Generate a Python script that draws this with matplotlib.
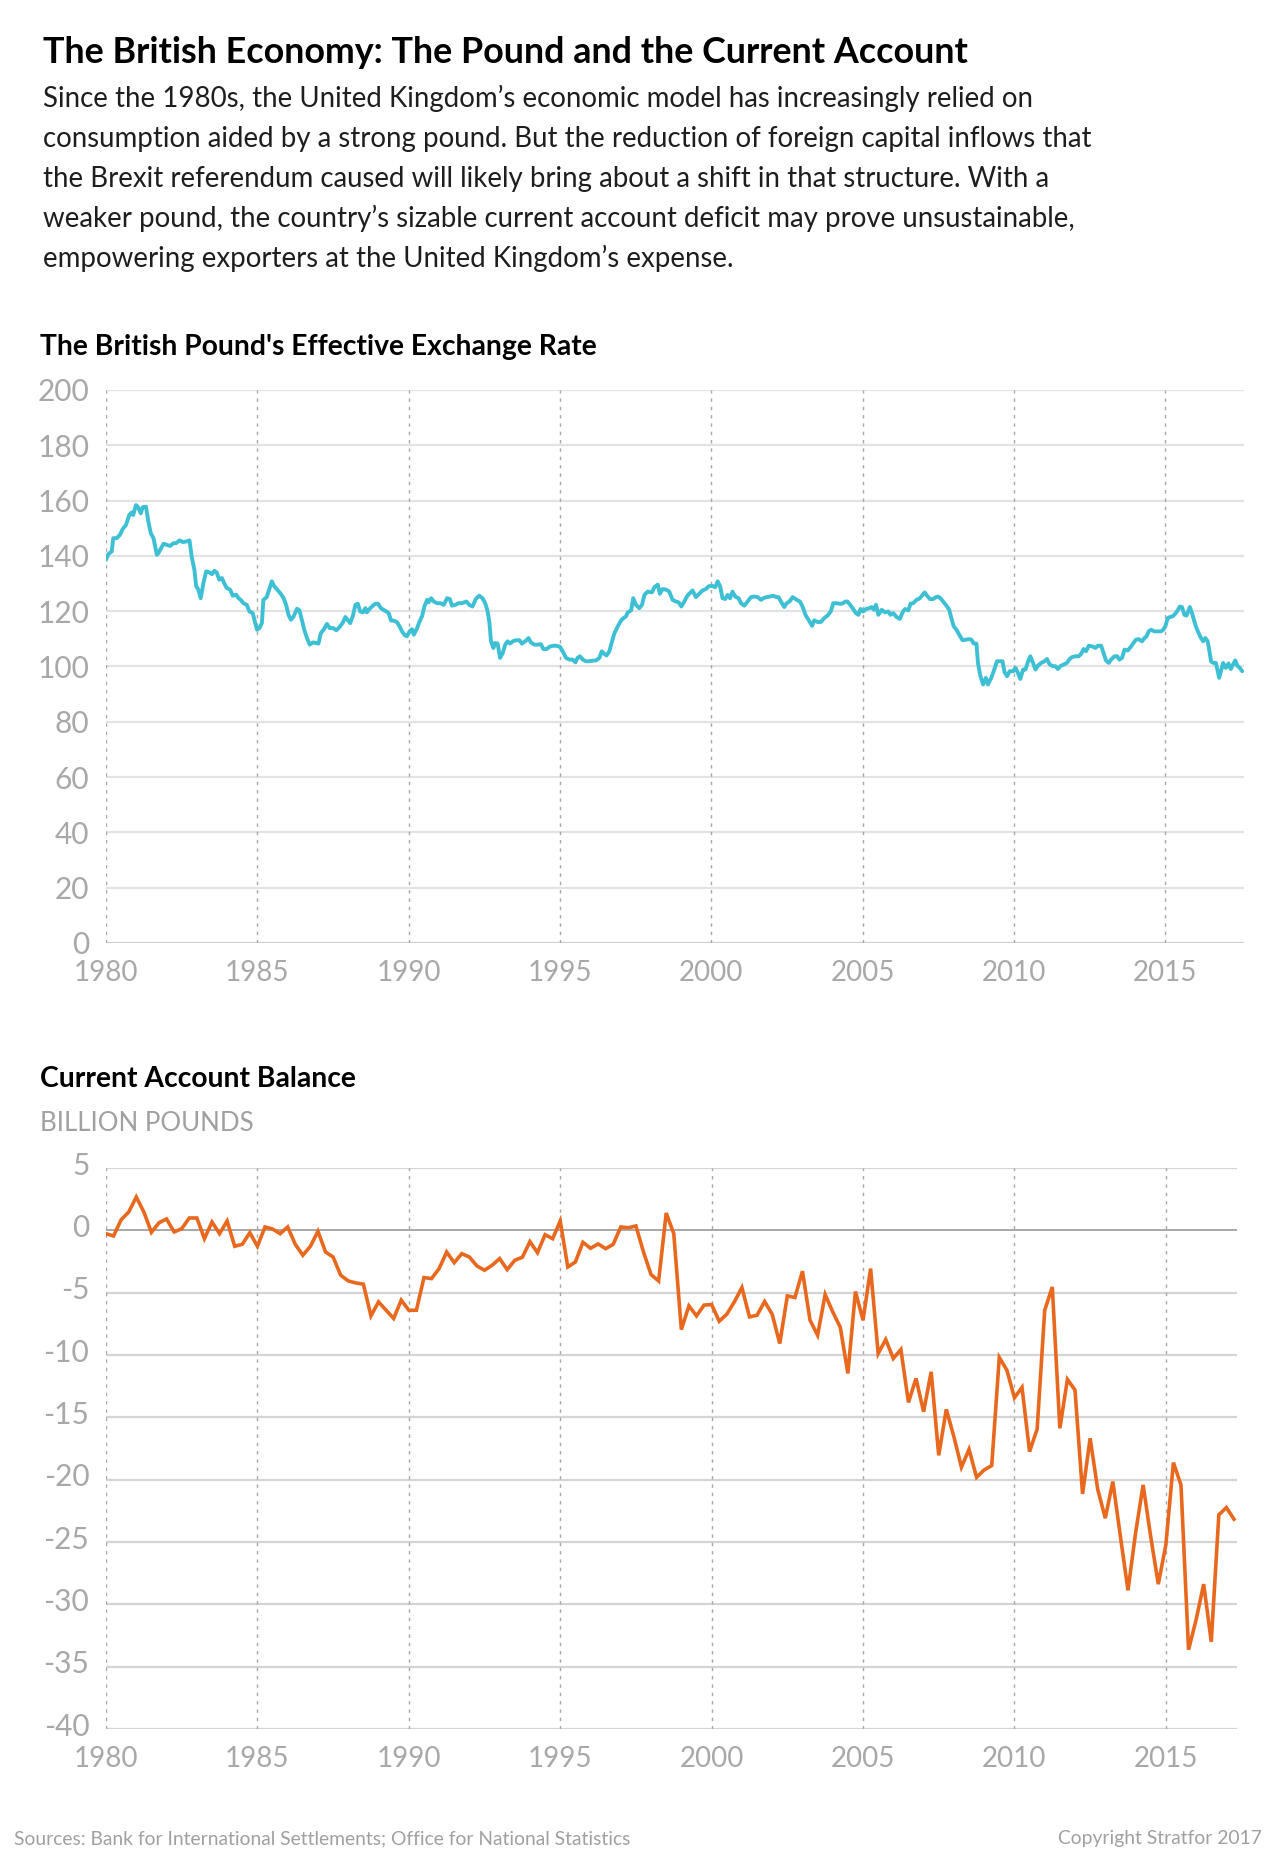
import matplotlib
matplotlib.use('Agg')
import matplotlib.pyplot as plt
import matplotlib.transforms as mtransforms
import numpy as np

plt.rcParams['font.family'] = ['Lato', 'DejaVu Sans']
plt.rcParams['axes.unicode_minus'] = False

# ---- data: pound effective exchange rate ----
fx_year = [
    1980.00, 1980.08, 1980.19, 1980.24, 1980.35, 1980.46, 1980.55, 1980.66, 1980.77, 1980.85, 1980.90, 1980.99,
    1981.05, 1981.15, 1981.21, 1981.32, 1981.40, 1981.48, 1981.57, 1981.68, 1981.73, 1981.90,
    1982.01, 1982.12, 1982.23, 1982.32, 1982.43, 1982.54, 1982.65, 1982.76, 1982.83, 1982.92, 1982.98,
    1983.05, 1983.13, 1983.22, 1983.31, 1983.42, 1983.50, 1983.58, 1983.66, 1983.74, 1983.83, 1983.90, 1983.99,
    1984.10, 1984.19, 1984.30, 1984.38, 1984.45, 1984.54, 1984.65, 1984.74, 1984.85, 1984.93, 1984.99,
    1985.07, 1985.15, 1985.20, 1985.31, 1985.39, 1985.48, 1985.56, 1985.64, 1985.76, 1985.87, 1985.95,
    1986.03, 1986.11, 1986.20, 1986.31, 1986.39, 1986.47, 1986.55, 1986.64, 1986.73, 1986.84, 1986.95,
    1987.02, 1987.10, 1987.19, 1987.30, 1987.39, 1987.50, 1987.61, 1987.72, 1987.83, 1987.91, 1987.98,
    1988.07, 1988.16, 1988.24, 1988.32, 1988.40, 1988.49, 1988.57, 1988.62, 1988.73, 1988.82, 1988.90, 1988.99,
    1989.08, 1989.17, 1989.26, 1989.34, 1989.42, 1989.50, 1989.61, 1989.70, 1989.78, 1989.86, 1989.94,
    1990.03, 1990.11, 1990.17, 1990.28, 1990.36, 1990.44, 1990.52, 1990.61, 1990.66, 1990.74, 1990.83, 1990.94,
    1991.05, 1991.16, 1991.27, 1991.36, 1991.43, 1991.54, 1991.65, 1991.76, 1991.91,
    1992.00, 1992.11, 1992.22, 1992.33, 1992.44, 1992.53, 1992.61, 1992.67, 1992.72, 1992.80, 1992.86, 1992.94,
    1993.02, 1993.11, 1993.19, 1993.27, 1993.35, 1993.44, 1993.55, 1993.66, 1993.74, 1993.85, 1993.96,
    1994.04, 1994.15, 1994.26, 1994.37, 1994.45, 1994.56, 1994.65, 1994.76, 1994.89,
    1995.00, 1995.09, 1995.20, 1995.31, 1995.42, 1995.51, 1995.58, 1995.66, 1995.75, 1995.86, 1995.97,
    1996.08, 1996.19, 1996.30, 1996.38, 1996.46, 1996.54, 1996.63, 1996.72, 1996.80, 1996.91,
    1997.02, 1997.10, 1997.18, 1997.24, 1997.35, 1997.42, 1997.51, 1997.62, 1997.71, 1997.79, 1997.90,
    1998.04, 1998.12, 1998.23, 1998.30, 1998.39, 1998.50, 1998.61, 1998.72, 1998.83, 1998.92,
    1999.01, 1999.11, 1999.19, 1999.27, 1999.38, 1999.49, 1999.60, 1999.71, 1999.82, 1999.91,
    2000.02, 2000.13, 2000.21, 2000.29, 2000.37, 2000.46, 2000.54, 2000.62, 2000.70, 2000.79, 2000.90, 2000.98,
    2001.09, 2001.20, 2001.31, 2001.42, 2001.53, 2001.64, 2001.72, 2001.83, 2001.94,
    2002.05, 2002.14, 2002.22, 2002.30, 2002.41, 2002.49, 2002.58, 2002.69, 2002.78, 2002.85, 2002.93,
    2003.02, 2003.11, 2003.22, 2003.33, 2003.40, 2003.51, 2003.62, 2003.73, 2003.84, 2003.95,
    2004.03, 2004.12, 2004.23, 2004.32, 2004.43, 2004.50, 2004.67, 2004.78, 2004.86, 2004.93,
    2005.02, 2005.11, 2005.22, 2005.30, 2005.37, 2005.44, 2005.52, 2005.63, 2005.74, 2005.85, 2005.92,
    2006.01, 2006.12, 2006.23, 2006.32, 2006.40, 2006.51, 2006.58, 2006.67, 2006.78, 2006.89, 2006.98,
    2007.05, 2007.13, 2007.22, 2007.33, 2007.42, 2007.49, 2007.57, 2007.66, 2007.77, 2007.86, 2007.93,
    2008.01, 2008.10, 2008.19, 2008.30, 2008.41, 2008.52, 2008.59, 2008.67, 2008.76, 2008.81, 2008.89, 2008.98,
    2009.07, 2009.14, 2009.25, 2009.33, 2009.44, 2009.53, 2009.62, 2009.69, 2009.77, 2009.86, 2009.97,
    2010.05, 2010.13, 2010.21, 2010.30, 2010.38, 2010.46, 2010.54, 2010.63, 2010.71, 2010.79, 2010.90,
    2011.01, 2011.09, 2011.18, 2011.29, 2011.37, 2011.45, 2011.53, 2011.64, 2011.75, 2011.84, 2011.92,
    2012.03, 2012.14, 2012.22, 2012.30, 2012.38, 2012.47, 2012.58, 2012.69, 2012.77, 2012.88, 2012.96,
    2013.04, 2013.13, 2013.21, 2013.32, 2013.41, 2013.48, 2013.57, 2013.65, 2013.76, 2013.87, 2013.95,
    2014.03, 2014.12, 2014.23, 2014.31, 2014.38, 2014.45, 2014.53, 2014.64, 2014.75, 2014.86, 2014.93,
    2015.00, 2015.08, 2015.15, 2015.24, 2015.33, 2015.41, 2015.48, 2015.55, 2015.63, 2015.70, 2015.77, 2015.81, 2015.90, 2015.96,
    2016.01, 2016.10, 2016.18, 2016.25, 2016.32, 2016.40, 2016.45, 2016.51, 2016.58, 2016.67, 2016.73, 2016.78, 2016.84, 2016.91,
    2017.00, 2017.09, 2017.16, 2017.22, 2017.31, 2017.38, 2017.46, 2017.54,
]
fx_index = [
    138.6, 140.7, 141.6, 146.4, 146.4, 147.6, 149.7, 151.2, 154.8, 155.7, 154.8, 158.4,
    157.8, 155.4, 157.6, 157.8, 152.4, 148.2, 146.4, 140.4, 141.0, 144.4,
    144.0, 143.6, 144.6, 144.6, 145.6, 145.0, 145.2, 145.6, 139.8, 135.0, 129.0,
    127.8, 124.7, 130.2, 134.4, 134.0, 133.4, 134.6, 134.0, 131.4, 132.0, 130.2, 128.4,
    127.8, 125.6, 126.0, 124.7, 124.1, 122.9, 122.3, 119.9, 119.3, 115.7, 113.3,
    113.9, 115.7, 124.1, 125.1, 127.8, 130.8, 129.0, 128.0, 126.5, 124.7, 122.3,
    118.7, 116.9, 118.1, 120.9, 120.3, 116.9, 113.3, 110.3, 107.9, 108.7, 108.5,
    108.3, 112.1, 113.3, 115.4, 113.9, 113.9, 113.1, 114.3, 116.0, 117.9, 116.9,
    115.7, 118.4, 122.3, 122.7, 119.9, 119.6, 121.1, 119.6, 121.1, 122.0, 122.7, 122.7,
    121.1, 120.5, 119.9, 119.3, 116.6, 116.6, 116.1, 114.5, 112.7, 111.5, 110.9,
    112.7, 113.5, 111.5, 113.9, 116.3, 118.1, 121.7, 124.1, 123.2, 124.7, 123.5, 122.9,
    122.9, 122.3, 124.7, 124.4, 122.0, 122.3, 122.9, 122.9, 123.5,
    122.3, 121.7, 124.4, 125.6, 124.7, 122.9, 119.9, 115.7, 109.1, 106.7, 108.5, 108.3,
    103.1, 104.9, 107.9, 109.1, 108.3, 109.1, 109.5, 109.5, 108.3, 109.1, 110.3,
    108.7, 107.9, 107.9, 108.1, 106.3, 106.3, 107.1, 107.5, 107.5,
    107.1, 105.5, 103.1, 102.5, 102.5, 101.5, 103.1, 103.7, 102.5, 101.9, 101.9,
    102.1, 102.2, 103.1, 105.5, 104.6, 104.0, 105.5, 109.1, 112.1, 114.5,
    116.7, 117.5, 118.1, 119.6, 120.3, 124.7, 122.3, 121.1, 122.3, 125.9, 127.1,
    126.8, 128.7, 129.6, 126.3, 128.0, 127.8, 127.1, 124.1, 123.5, 123.2,
    121.7, 123.5, 125.3, 126.3, 127.5, 125.1, 126.3, 127.5, 128.0, 129.0,
    129.2, 128.7, 130.8, 129.0, 124.7, 124.4, 125.9, 124.7, 127.1, 125.3, 124.7, 122.9,
    122.0, 123.5, 125.1, 125.3, 125.1, 124.1, 124.7, 125.1, 125.3,
    125.6, 125.1, 125.1, 123.5, 121.5, 122.9, 123.5, 125.1, 124.4, 123.9, 123.5,
    121.5, 118.7, 116.7, 114.7, 116.7, 116.1, 116.1, 117.5, 118.4, 120.0,
    122.9, 122.9, 122.7, 122.7, 123.5, 123.5, 121.1, 119.3, 118.7, 120.8,
    119.9, 120.8, 121.1, 121.5, 120.5, 122.3, 118.7, 120.5, 119.6, 119.9, 118.7,
    119.3, 117.9, 117.2, 119.6, 120.8, 120.3, 122.7, 122.9, 124.1, 124.7, 125.9,
    126.8, 125.6, 124.4, 124.4, 125.1, 125.3, 124.7, 123.5, 122.0, 120.5, 117.5,
    114.5, 113.3, 111.5, 109.5, 109.7, 109.9, 109.7, 108.3, 108.3, 101.3, 96.5, 93.5,
    95.9, 93.5, 95.9, 98.3, 101.9, 101.9, 101.9, 97.9, 96.5, 98.3, 98.3,
    99.5, 97.7, 95.5, 98.9, 98.9, 101.6, 103.7, 101.3, 98.9, 100.3, 101.3,
    101.9, 102.7, 100.7, 100.1, 100.1, 99.1, 100.1, 100.7, 101.3, 102.7, 103.4,
    103.7, 103.7, 104.6, 106.3, 105.5, 107.5, 107.3, 106.7, 107.5, 107.5, 104.8,
    102.2, 101.3, 102.5, 103.7, 103.7, 102.5, 103.1, 106.1, 105.8, 107.3, 108.5,
    109.7, 109.9, 109.1, 110.3, 110.9, 112.7, 113.3, 112.7, 112.7, 112.7, 113.3,
    114.5, 117.5, 117.9, 118.1, 119.1, 120.3, 121.7, 121.5, 118.7, 118.4, 120.3, 121.5, 118.7, 116.3,
    114.5, 112.1, 110.3, 109.1, 110.3, 109.1, 106.1, 101.9, 101.3, 101.3, 98.3, 95.9, 98.3, 101.3,
    99.5, 101.1, 99.1, 100.3, 102.2, 100.3, 99.5, 98.3,
]

# ---- data: current account balance, quarterly from 1980 Q1 (billion pounds) ----
ca_start = 1980
ca_balance = [
    -0.27, -0.45, 0.85, 1.47, 2.67, 1.47, -0.16, 0.61, 0.91, -0.13, 0.13, 0.99,
    0.99, -0.67, 0.67, -0.27, 0.75, -1.28, -1.12, -0.19, -1.28, 0.27, 0.11, -0.27,
    0.27, -1.12, -2.0, -1.28, -0.08, -1.74, -2.14, -3.6, -4.06, -4.22, -4.32, -6.86,
    -5.74, -6.41, -7.07, -5.6, -6.41, -6.41, -3.79, -3.87, -3.07, -1.74, -2.59, -1.87,
    -2.14, -2.86, -3.2, -2.8, -2.27, -3.15, -2.4, -2.16, -0.91, -1.79, -0.35, -0.67,
    0.75, -2.94, -2.54, -0.96, -1.44, -1.09, -1.47, -1.12, 0.27, 0.21, 0.35, -1.74,
    -3.55, -4.06, 1.39, -0.27, -7.96, -6.06, -6.86, -6.0, -5.95, -7.29, -6.73, -5.74,
    -4.59, -6.94, -6.81, -5.71, -6.73, -9.08, -5.26, -5.39, -3.28, -7.21, -8.41, -5.15,
    -6.54, -7.79, -11.48, -4.91, -7.21, -3.07, -9.88, -8.76, -10.28, -9.56, -13.8, -11.88,
    -14.55, -11.35, -18.05, -14.36, -16.55, -19.0, -17.57, -19.81, -19.22, -18.87, -10.2, -11.21,
    -13.43, -12.6, -17.75, -15.94, -6.41, -4.54, -15.88, -11.96, -12.81, -21.14, -16.68, -20.77,
    -23.09, -20.15, -24.56, -28.88, -24.29, -20.42, -24.56, -28.38, -25.23, -18.63, -20.42, -33.64,
    -31.23, -28.38, -33.0, -22.82, -22.24, -23.17,
]

year_ticks = [1980, 1985, 1990, 1995, 2000, 2005, 2010, 2015]
fx_ticks = [0, 20, 40, 60, 80, 100, 120, 140, 160, 180, 200]
ca_ticks = [5, 0, -5, -10, -15, -20, -25, -30, -35, -40]

W, H = 1280, 1866
fig = plt.figure(figsize=(W / 100, H / 100), dpi=100)

def fx(x):
    return x / W

def fy(y):
    return 1 - y / H

TICK = '#a8a8a8'
GREY = '#a0a0a0'

# header texts
fig.text(fx(43), fy(63), 'The British Economy: The Pound and the Current Account',
         fontsize=25.8, fontweight='bold', color='#000000', va='baseline')
sub = ["Since the 1980s, the United Kingdom\u2019s economic model has increasingly relied on",
       "consumption aided by a strong pound. But the reduction of foreign capital inflows that",
       "the Brexit referendum caused will likely bring about a shift in that structure. With a",
       "weaker pound, the country\u2019s sizable current account deficit may prove unsustainable,",
       "empowering exporters at the United Kingdom\u2019s expense."]
for i, line in enumerate(sub):
    fig.text(fx(43), fy(107 + 40 * i), line, fontsize=19.9, fontweight='normal',
             color='#1e1e1e', va='baseline')

fig.text(fx(40), fy(355), "The British Pound's Effective Exchange Rate",
         fontsize=20.3, fontweight='bold', color='#000000', va='baseline')
fig.text(fx(40), fy(1087), 'Current Account Balance',
         fontsize=20.3, fontweight='bold', color='#000000', va='baseline')
fig.text(fx(40), fy(1131), 'BILLION POUNDS',
         fontsize=18.6, fontweight='normal', color=GREY, va='baseline')

fig.text(fx(14), fy(1844), 'Sources: Bank for International Settlements; Office for National Statistics',
         fontsize=13.9, fontweight='normal', color=GREY, va='baseline')
fig.text(fx(1262), fy(1844), 'Copyright Stratfor 2017',
         fontsize=13.9, fontweight='normal', color=GREY, va='baseline', ha='right')


def style(ax, yticks, ylab_lift=0):
    for s in ax.spines.values():
        s.set_visible(False)
    ax.set_xticks(year_ticks)
    ax.set_yticks(yticks)
    ax.tick_params(axis='both', length=0, labelcolor=TICK)
    ax.tick_params(axis='y', pad=12, labelsize=21.5)
    ax.tick_params(axis='x', pad=12, labelsize=20)
    lift = mtransforms.ScaledTranslation(0, ylab_lift / 72, fig.dpi_scale_trans)
    for lab in ax.get_yticklabels():
        lab.set_transform(lab.get_transform() + lift)
    for y in year_ticks:
        ax.axvline(y, color='#a8a8a8', lw=1.0, ls=(0, (2.5, 3.5)), zorder=1)


# top chart
ax1 = fig.add_axes([fx(106), fy(943), fx(1244 - 106), (943 - 390) / H])
ax1.set_xlim(1980, 2017.6)
ax1.set_ylim(0, 200)
style(ax1, fx_ticks)
for v in fx_ticks:
    ax1.axhline(v, color='#cfcfcf' if v == 0 else '#e3e3e3', lw=1.6, zorder=0)
ax1.plot(fx_year, fx_index, color='#3dbfd4', lw=2.8, zorder=3,
         solid_joinstyle='round', solid_capstyle='round')

# bottom chart
ax2 = fig.add_axes([fx(106), fy(1729), fx(1237 - 106), (1729 - 1168) / H])
ax2.set_xlim(1980, 2017.35)
ax2.set_ylim(-40, 5)
style(ax2, ca_ticks, ylab_lift=3.5)
for v in ca_ticks:
    if v != 0:
        ax2.axhline(v, color='#d4d4d4', lw=1.6, zorder=0)
ax2.axhline(0, color='#9a9a9a', lw=1.2, zorder=2)
ca_x = ca_start + np.arange(len(ca_balance)) / 4
ax2.plot(ca_x, ca_balance, color='#e8681e', lw=2.6, zorder=3,
         solid_joinstyle='miter')

fig.savefig('out.png', dpi=100)
plt.close(fig)
